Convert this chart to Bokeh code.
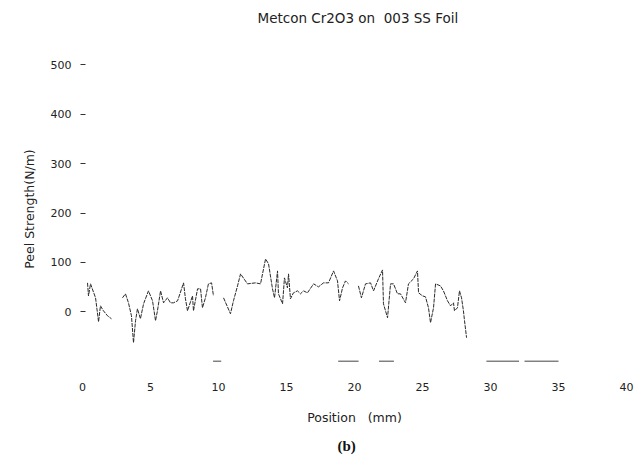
import numpy as np
from bokeh.plotting import figure
from bokeh.models import LinearAxis, FixedTicker, Range1d, Title
from bokeh.embed import file_html
from bokeh.resources import INLINE

nan = np.nan

# Peel test trace: position along the foil (mm) and peel strength (N/m)
position_mm = [0.37, 0.44, 0.59, 0.96, 1.18, 1.32, 1.54, 1.84, 2.13, nan,
               2.94, 3.16, 3.38, 3.60, 3.75, 3.90, 4.04, 4.26, 4.49, 4.85,
               5.15, 5.37, 5.51, 5.74, 5.96, 6.25, 6.47, 6.69, 6.99, 7.43,
               7.57, 7.72, 8.09, 8.16, 8.46, 8.68, 8.82, 9.04, 9.26, 9.49,
               9.63, nan,
               10.37, 10.88, 11.10, 11.40, 11.62, 12.13, 12.72, 13.09, 13.46, 13.68,
               13.97, 14.12, 14.34, 14.41, 14.71, 14.85, 15.07, 15.15, 15.29, 15.51,
               15.81, 16.03, 16.25, 16.54, 16.99, 17.35, 17.72, 18.09, 18.46, 18.75,
               18.90, 19.12, 19.34, 19.56, nan,
               20.29, 20.51, 20.81, 21.18, 21.40, 21.76, 22.06, 22.13, 22.43, 22.65,
               22.87, 23.16, 23.38, 23.75, 23.97, 24.34, 24.63, 24.71, 25.00, 25.22,
               25.44, 25.59, 25.81, 25.96, 26.32, 26.54, 26.84, 27.06, 27.28, 27.35,
               27.57, 27.72, 27.87, 28.01, 28.09, 28.24]
peel_N_per_m = [58.6, 32.3, 56.6, 28.3, -20.2, 12.1, 2.0, -8.1, -14.1, nan,
                28.3, 36.4, 18.2, -8.1, -62.6, -18.2, 6.1, -14.1, 16.2, 42.4,
                22.2, -18.2, 2.0, 42.4, 18.2, 28.3, 18.2, 18.2, 22.2, 58.6,
                26.3, 2.0, 32.3, 2.0, 46.5, 46.5, 8.1, 28.3, 56.6, 58.6,
                32.3, nan,
                28.3, -4.0, 22.2, 52.5, 76.8, 56.6, 58.6, 56.6, 107.1, 97.0,
                46.5, 28.3, 82.8, 36.4, 16.2, 68.7, 48.5, 76.8, 26.3, 38.4,
                42.4, 36.4, 42.4, 38.4, 56.6, 50.5, 58.6, 58.6, 82.8, 62.6,
                22.2, 48.5, 62.6, 56.6, nan,
                52.5, 28.3, 56.6, 58.6, 42.4, 66.7, 84.8, 16.2, -12.1, 56.6,
                56.6, 36.4, 36.4, 18.2, 56.6, 66.7, 82.8, 38.4, 32.3, 30.3,
                8.1, -22.2, 8.1, 56.6, 52.5, 42.4, 22.2, 12.1, 18.2, 2.0,
                8.1, 42.4, 28.3, 2.0, -18.2, -52.5]

# short flat pieces drawn at -100 N/m
floor_mm = [9.6, 10.2, nan, 18.8, 20.3, nan, 21.8, 22.9, nan, 29.7, 32.1, nan, 32.5, 35.0]
floor_N_per_m = [-100, -100, nan, -100, -100, nan, -100, -100, nan, -100, -100, nan, -100, -100]

x_ticks = [0, 5, 10, 15, 20, 25, 30, 35, 40]
y_ticks = [0, 100, 200, 300, 400, 500]

NB = "\u00a0"
title_text = "Metcon Cr2O3 on" + NB + NB + "003 SS Foil"
x_label = "Position" + NB + NB + NB + "(mm)"
y_label = "Peel Strength(N/m)"
caption = "(b)"

FONT = "DejaVu Sans"
INK = "#222222"
W, H = 641, 468
TOP, BOTTOM = 32, 38
PX_PER_MM = 13.6
X0_PX = 82.0
Y0_PX = 311.0
PX_PER_UNIT = 0.495

x_range = Range1d(-X0_PX / PX_PER_MM, (W - X0_PX) / PX_PER_MM)
y_range = Range1d((Y0_PX - (H - BOTTOM)) / PX_PER_UNIT, (Y0_PX - TOP) / PX_PER_UNIT)

p = figure(width=W, height=H, output_backend="svg", toolbar_location=None,
           x_axis_location=None, y_axis_location=None,
           x_range=x_range, y_range=y_range,
           min_border_left=0, min_border_right=0,
           min_border_top=TOP, min_border_bottom=BOTTOM,
           outline_line_color=None, background_fill_color="white",
           border_fill_color="white")
p.grid.grid_line_color = None

p.title.text = title_text
p.title.align = "left"
p.title.offset = 257
p.title.standoff = 15
p.title.text_font = FONT
p.title.text_font_size = "13.5px"
p.title.text_font_style = "normal"
p.title.text_color = INK

yaxis = LinearAxis(fixed_location=(85 - X0_PX) / PX_PER_MM, bounds=(-84, 500),
                   ticker=FixedTicker(ticks=y_ticks, minor_ticks=[]),
                   axis_label=y_label)
yaxis.axis_line_color = None
yaxis.major_tick_out = 5
yaxis.major_tick_in = 0
yaxis.minor_tick_out = 0
yaxis.major_tick_line_color = "#333333"
yaxis.major_label_standoff = 9
yaxis.axis_label_standoff = 11
p.add_layout(yaxis, "left")

xaxis = LinearAxis(fixed_location=(Y0_PX - 380.5) / PX_PER_UNIT, bounds=(0, 40),
                   ticker=FixedTicker(ticks=x_ticks, minor_ticks=[]),
                   axis_label=x_label)
xaxis.axis_line_color = None
xaxis.major_tick_out = 0
xaxis.major_tick_in = 0
xaxis.minor_tick_out = 0
xaxis.major_tick_line_color = None
xaxis.major_label_standoff = 2
xaxis.axis_label_standoff = 15
p.add_layout(xaxis, "below")

for ax in (xaxis, yaxis):
    ax.major_label_text_font = FONT
    ax.major_label_text_font_size = "11px"
    ax.major_label_text_color = INK
    ax.axis_label_text_font = FONT
    ax.axis_label_text_font_size = "12.5px"
    ax.axis_label_text_font_style = "normal"
    ax.axis_label_text_color = INK

p.add_layout(Title(text=caption, align="left", offset=337, standoff=15,
                   vertical_align="top",
                   text_font="Liberation Serif", text_font_style="bold",
                   text_font_size="15px", text_color="#111111"), "below")

p.line(position_mm, peel_N_per_m, line_color="#2a2a2a", line_width=1, line_dash="4 1")
p.line(floor_mm, floor_N_per_m, line_color="#444444", line_width=1)

open("out.html", "w").write(file_html(p, INLINE))
